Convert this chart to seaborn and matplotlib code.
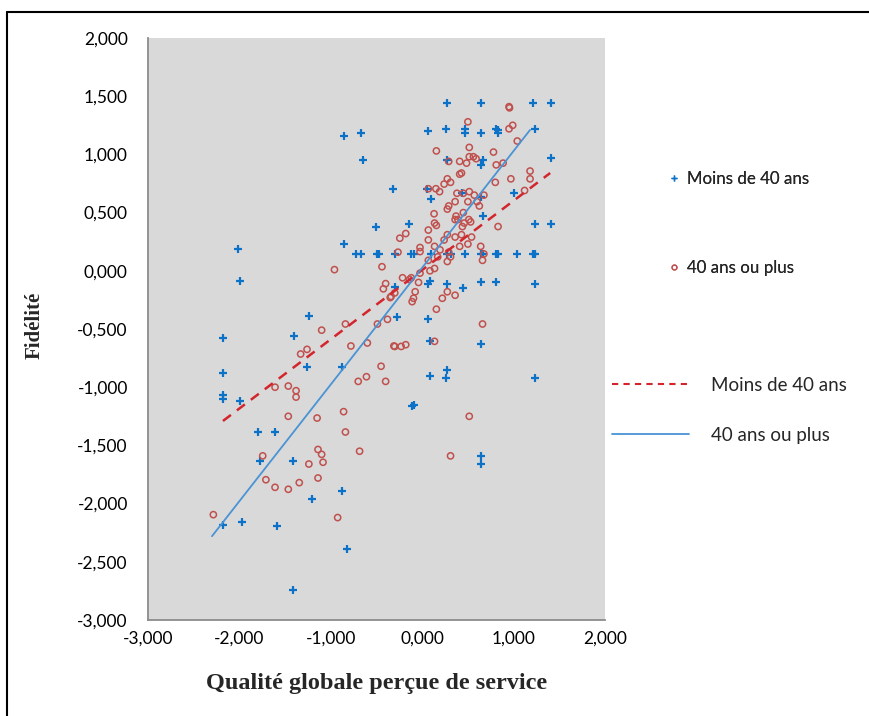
import matplotlib
matplotlib.use("Agg")
import matplotlib.pyplot as plt
import seaborn as sns
import pandas as pd
from matplotlib.lines import Line2D
from matplotlib.ticker import FuncFormatter

# ---------------- data ----------------
young_label = "Moins de 40 ans"
old_label = "40 ans ou plus"

young_x = [-0.856, -0.666, -0.65, -0.51, -0.856, -0.72, -0.67, -0.49, -0.47, -2.01,
           -1.99, -1.24, -2.18, -1.40, -2.18, -2.18, -2.18, -1.99, -1.26, -0.88,
           -1.80, -1.61, -1.78, -1.41, -1.21, -0.88, -2.18, -1.97, -1.59, -0.82,
           -1.41, -0.28, 0.063, 0.08, 0.64, 0.275, 0.257, 0.08, 1.23, -0.11,
           -0.095, 0.64, 0.64, 0.275, 0.64, 1.21, 1.41, 0.067, 0.257, 0.468,
           0.468, 0.64, 0.81, 0.83, 0.83, 1.23, 1.41, 0.275, 0.66, 0.64,
           -0.32, 0.05, 0.10, 0.44, 1.00, 0.66, 1.23, 1.41, -0.14,
           -0.30, -0.126, -0.09, 0.10, 0.275, 0.31, 0.47, 0.64, 0.66, 0.81, 0.83, 1.04, 1.21, 1.23,
           -0.30, 0.08, 0.067, 0.275, 0.45, 0.64, 0.81, 1.23, 0.64]
young_y = [1.158, 1.18, 0.95, 0.38, 0.23, 0.147, 0.147, 0.147, 0.147, 0.19,
           -0.085, -0.386, -0.58, -0.56, -0.88, -1.07, -1.10, -1.12, -0.83, -0.83,
           -1.385, -1.385, -1.63, -1.63, -1.96, -1.89, -2.18, -2.16, -2.19, -2.39,
           -2.74, -0.40, -0.414, -0.606, -0.63, -0.85, -0.92, -0.906, -0.92, -1.16,
           -1.15, -1.59, -1.66, 1.44, 1.44, 1.44, 1.44, 1.20, 1.22, 1.22,
           1.18, 1.18, 1.22, 1.21, 1.18, 1.22, 0.966, 0.95, 0.95, 0.91,
           0.705, 0.705, 0.62, 0.666, 0.666, 0.47, 0.405, 0.405, 0.405,
           0.147, 0.147, 0.147, 0.147, 0.147, 0.147, 0.147, 0.147, 0.147, 0.147, 0.147, 0.147, 0.147, 0.147,
           -0.137, -0.085, -0.11, -0.11, -0.15, -0.10, -0.10, -0.11, 0.63]

old_x = [-0.96, -1.10, -0.84, -0.49, -1.33, -1.26, -0.78, -0.60, -0.45, -1.61,
         -1.465, -1.38, -1.38, -0.70, -0.61, -1.465, -1.15, -0.86, -0.84, -0.685,
         -1.745, -1.14, -1.10, -1.085, -1.24, -1.71, -1.61, -1.465, -1.345, -1.14,
         -0.925, -2.285, -0.44, -0.40, -0.425, -0.35, -0.38, -0.31, -0.40,
         0.95, 0.955, 0.50, 0.99, 0.95, 1.04, 0.155, 0.515, 0.515, 0.56,
         0.59, 0.78, 0.29, 0.41, 0.485, 0.81, 0.885, 0.41, 0.43, 0.275,
         0.24, 0.31, 0.80, 0.97, 1.18, 1.18, 1.12, 0.067, 0.15, 0.19,
         0.38, 0.45, 0.515, 0.57, 0.675, 0.36, 0.50, 0.60, 0.625, 0.29,
         0.275, 0.13, 0.45, 0.37, 0.39, 0.36, 0.135, 0.155, 0.51, 0.53,
         0.46, 0.44, 0.067, 0.83, -0.18, -0.245, 0.275, 0.24, 0.36, 0.43,
         0.54, 0.50, 0.067, 0.41, 0.64, 0.135, 0.195, -0.024, -0.024, -0.265,
         0.29, 0.31, 0.675, 0.66, 0.067, 0.17, 0.275, 0.135, 0.085, -0.215,
         -0.14, -0.12, -0.024, -0.04, -0.30, -0.34, -0.077, -0.095, -0.11, 0.275,
         0.36, 0.22, 0.155, 0.66, -0.30, -0.23, -0.18, 0.135, 0.515, 0.31]
old_y = [0.01, -0.51, -0.457, -0.457, -0.715, -0.675, -0.646, -0.62, -0.82, -1.00,
         -0.99, -1.03, -1.085, -0.95, -0.91, -1.25, -1.265, -1.21, -1.385, -1.55,
         -1.59, -1.535, -1.577, -1.645, -1.66, -1.795, -1.86, -1.877, -1.82, -1.78,
         -2.12, -2.095, 0.035, -0.11, -0.155, -0.23, -0.417, -0.646, -0.95,
         1.41, 1.40, 1.28, 1.25, 1.22, 1.115, 1.03, 1.06, 0.98, 0.98,
         0.963, 1.02, 0.94, 0.94, 0.925, 0.91, 0.925, 0.83, 0.84, 0.79,
         0.745, 0.76, 0.76, 0.79, 0.857, 0.79, 0.69, 0.705, 0.705, 0.68,
         0.666, 0.666, 0.68, 0.65, 0.65, 0.594, 0.594, 0.594, 0.557, 0.557,
         0.53, 0.49, 0.50, 0.47, 0.44, 0.44, 0.41, 0.39, 0.44, 0.42,
         0.41, 0.38, 0.35, 0.38, 0.32, 0.28, 0.31, 0.265, 0.29, 0.31,
         0.29, 0.23, 0.265, 0.21, 0.21, 0.21, 0.18, 0.20, 0.165, 0.16,
         0.16, 0.12, 0.145, 0.09, 0.09, 0.12, 0.08, 0.02, 0.0, -0.06,
         -0.075, -0.06, -0.02, -0.10, -0.19, -0.22, -0.18, -0.236, -0.265, -0.18,
         -0.21, -0.236, -0.33, -0.457, -0.65, -0.65, -0.635, -0.606, -1.25, -1.59]

# fitted trend lines (end points)
trend_young_x = [-2.18, 1.40]
trend_young_y = [-1.29, 0.84]
trend_old_x = [-2.30, 1.18]
trend_old_y = [-2.28, 1.21]

x_label = "Qualité globale perçue de service"
y_label = "Fidélité"
x_ticks = [-3, -2, -1, 0, 1, 2]
y_ticks = [-3, -2.5, -2, -1.5, -1, -0.5, 0, 0.5, 1, 1.5, 2]

# ---------------- style ----------------
BLUE_PT = "#0B72C7"
RED_PT = "#C0504D"
RED_LINE = "#D2262C"
BLUE_LINE = "#4A93D4"

sns.set_theme(style="white")
plt.rcParams["font.family"] = ["Lato", "DejaVu Sans"]

fig = plt.figure(figsize=(8.69, 7.16), dpi=100)
ax = fig.add_axes([148 / 869, 1 - 620 / 716, (605 - 148) / 869, (620 - 38) / 716])
ax.set_facecolor("#D9D9D9")

df_young = pd.DataFrame({"x": young_x, "y": young_y})
df_old = pd.DataFrame({"x": old_x, "y": old_y})

sns.scatterplot(data=df_young, x="x", y="y", marker="+", color=BLUE_PT, s=30,
                linewidth=1.6, ax=ax, legend=False, zorder=3)
sns.scatterplot(data=df_old, x="x", y="y", marker="o", s=20, facecolors="none",
                edgecolors=RED_PT, linewidth=1.1, ax=ax, legend=False, zorder=3)

sns.lineplot(x=trend_young_x, y=trend_young_y, color=RED_LINE, linewidth=1.8,
             ax=ax, legend=False, zorder=4)
ax.lines[-1].set_linestyle((0, (4, 3)))
sns.lineplot(x=trend_old_x, y=trend_old_y, color=BLUE_LINE, linewidth=1.3,
             ax=ax, legend=False, zorder=4)

ax.set_xlim(-3, 2)
ax.set_ylim(-3, 2)
ax.set_xticks(x_ticks)
ax.set_yticks(y_ticks)
fmt = FuncFormatter(lambda v, p: f"{v:.3f}".replace(".", ","))
ax.xaxis.set_major_formatter(fmt)
ax.yaxis.set_major_formatter(fmt)

for side in ["top", "right"]:
    ax.spines[side].set_visible(False)
for side in ["left", "bottom"]:
    ax.spines[side].set_color("#8C8C8C")
    ax.spines[side].set_linewidth(1.3)
ax.tick_params(axis="both", direction="out", length=6, width=1.1, color="#8C8C8C",
               labelsize=12.5, labelcolor="black")
ax.tick_params(axis="y", pad=8.5)
ax.tick_params(axis="x", pad=1.5)

ax.set_xlabel(x_label, fontsize=17.5, fontweight="bold", family="Liberation Serif")
ax.set_ylabel(y_label, fontsize=15, fontweight="bold", family="Liberation Serif")
ax.xaxis.set_label_coords((377 - 148) / 457, (620 - 683) / 582)
ax.xaxis.label.set_va("center")
ax.yaxis.set_label_coords((35 - 148) / 457, (620 - 325) / 582)
ax.yaxis.label.set_va("center")

# legends
h1 = [Line2D([], [], marker="+", color=BLUE_PT, linestyle="none", markersize=4, markeredgewidth=1.0),
      Line2D([], [], marker="o", markerfacecolor="none", markeredgecolor=RED_PT, linestyle="none",
             markersize=3.5, markeredgewidth=0.9)]
leg1 = fig.legend(h1, [young_label, old_label], loc="upper left",
                  bbox_to_anchor=(650 / 869, 1 - 156 / 716), frameon=False,
                  fontsize=12.2, handlelength=1.0, handletextpad=0.3, labelspacing=4.3)
h2 = [Line2D([], [], color=RED_LINE, linewidth=1.5, linestyle=(0, (3, 2.5))),
      Line2D([], [], color=BLUE_LINE, linewidth=1.3)]
leg2 = fig.legend(h2, [young_label, old_label], loc="upper left",
                  bbox_to_anchor=(595 / 869, 1 - 360 / 716), frameon=False,
                  fontsize=13.5, handlelength=4.1, handletextpad=1.2, labelspacing=1.75)
fig.add_artist(leg1)

# outer frame
fig.add_artist(Line2D([7 / 869, 7 / 869], [0, 1 - 12 / 716], color="black", linewidth=1.5,
                      transform=fig.transFigure))
fig.add_artist(Line2D([7 / 869, 1], [1 - 12 / 716, 1 - 12 / 716], color="black", linewidth=1.5,
                      transform=fig.transFigure))

fig.savefig("out.png", dpi=100, facecolor="white")
